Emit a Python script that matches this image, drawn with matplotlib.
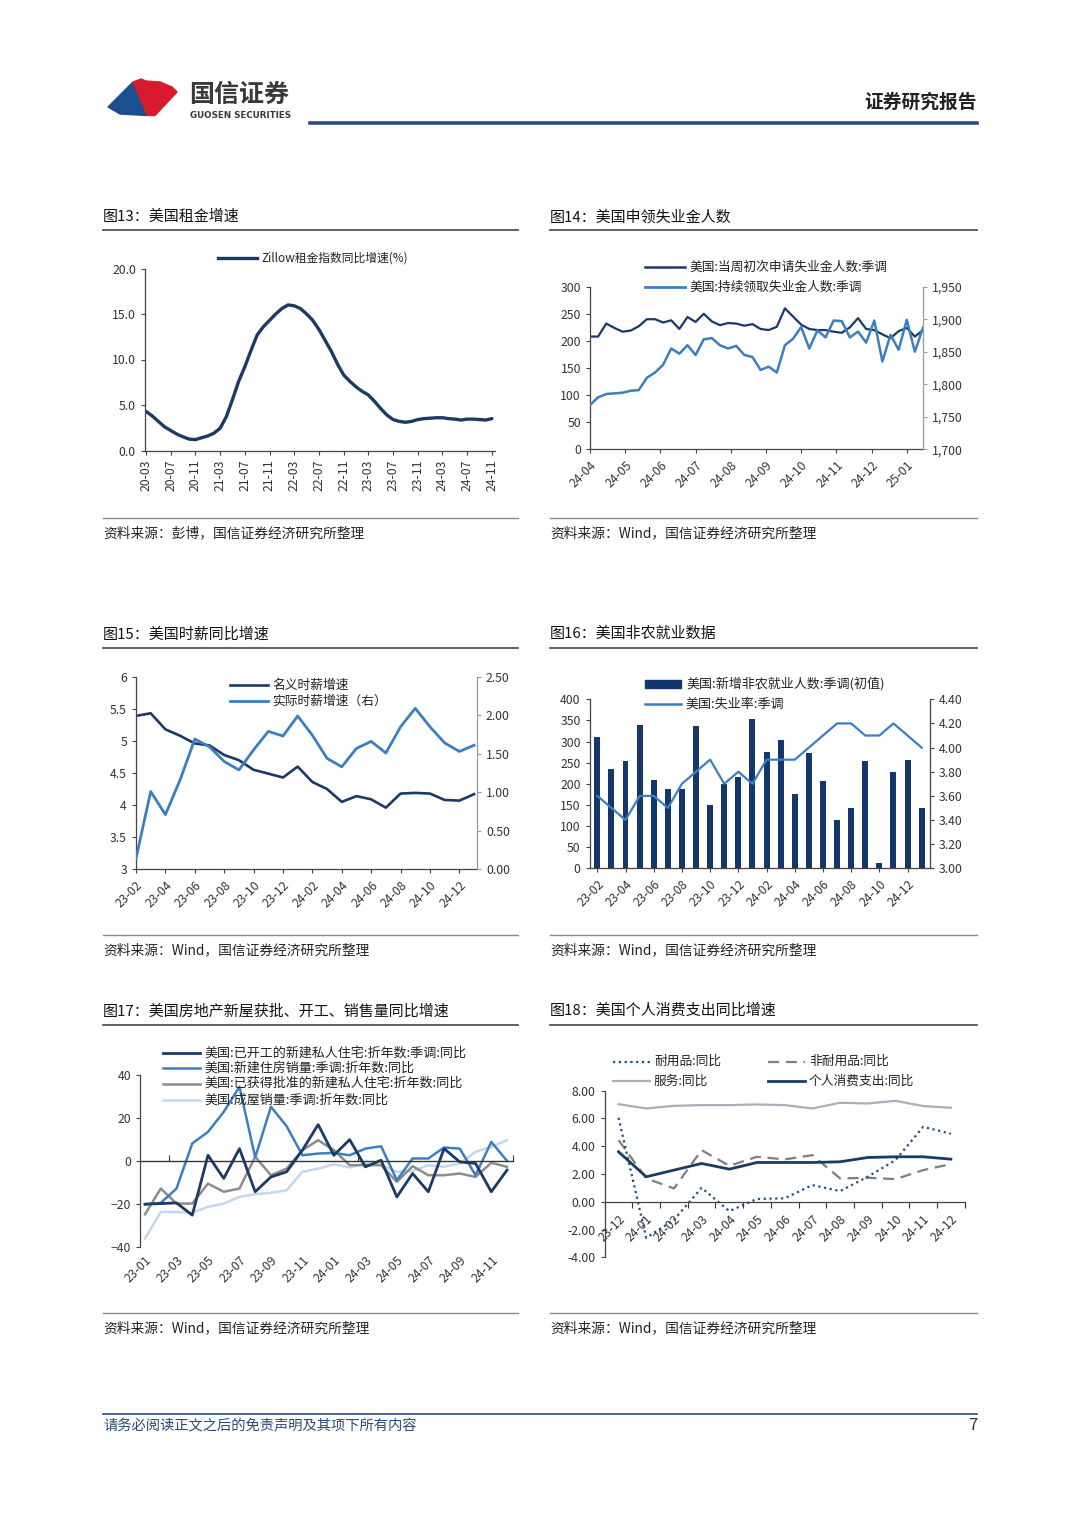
import matplotlib
matplotlib.use('Agg')
import matplotlib.pyplot as plt
import numpy as np
import pandas as pd
from matplotlib.lines import Line2D
from matplotlib.patches import Polygon, Rectangle

plt.rcParams['font.family'] = ['Noto Sans CJK SC', 'DejaVu Sans']

NAVY = '#1b3a66'
BLUE = '#3b7fc2'
GRAY = '#8c8c8c'
LIGHT = '#c3d7ee'
TXT = '#333333'

# ---- 图13 data: Zillow rent index yoy, monthly 20-03 .. 24-11
zillow_months = list(pd.period_range('2020-03', '2024-11', freq='M').strftime('%y-%m'))
zillow = [4.3, 3.8, 3.2, 2.6, 2.2, 1.8, 1.5, 1.25, 1.2, 1.4,
          1.6, 1.9, 2.45, 3.7, 5.6, 7.6, 9.2, 11.0, 12.7, 13.6, 14.3, 15.0,
          15.6, 16.0, 15.9, 15.6, 15.0, 14.3, 13.3, 12.1, 10.9, 9.5, 8.3, 7.6,
          7.0, 6.5, 6.1, 5.4, 4.6, 3.9, 3.4, 3.2, 3.1, 3.2, 3.4, 3.5,
          3.55, 3.6, 3.6, 3.5, 3.45, 3.35, 3.45, 3.45, 3.4, 3.35, 3.5]

# ---- 图14 data: weekly claims (thousand), 24-04 .. 25-01
claim_months = ['24-04', '24-05', '24-06', '24-07', '24-08', '24-09', '24-10', '24-11', '24-12', '25-01']
initial_claims = [208, 208, 232, 224, 217, 219, 227, 240, 240, 234, 238, 222, 244, 235,
                  250, 236, 229, 233, 232, 228, 231, 222, 220, 226, 260, 245, 230, 222,
                  220, 220, 217, 215, 225, 242, 222, 220, 212, 205, 218, 224, 208, 220]
continuing_claims = [1768, 1780, 1785, 1786, 1787, 1790, 1791, 1810, 1818, 1830, 1855, 1847,
                     1860, 1845, 1869, 1871, 1860, 1855, 1859, 1845, 1842, 1822, 1827, 1818,
                     1860, 1870, 1888, 1855, 1883, 1872, 1898, 1897, 1872, 1881, 1864, 1898,
                     1835, 1876, 1853, 1899, 1850, 1887]

# ---- 图15 data: hourly wage growth, monthly 23-02 .. 25-01
wage_months = list(pd.period_range('2023-02', '2025-01', freq='M').strftime('%y-%m'))
wage_nominal = [5.39, 5.43, 5.18, 5.08, 4.96, 4.93, 4.78, 4.70, 4.55, 4.49, 4.43, 4.60,
                4.36, 4.25, 4.05, 4.14, 4.09, 3.96, 4.18, 4.19, 4.18, 4.08, 4.07, 4.17]
wage_real = [0.14, 1.01, 0.71, 1.16, 1.69, 1.59, 1.40, 1.29, 1.55, 1.79, 1.73, 1.99,
             1.74, 1.44, 1.33, 1.57, 1.66, 1.51, 1.85, 2.09, 1.85, 1.64, 1.53, 1.61]

# ---- 图16 data: nonfarm payrolls and unemployment rate, 23-02 .. 25-01
nfp_months = wage_months
nfp = [311, 236, 253, 339, 209, 187, 187, 336, 150, 199, 216, 353,
       275, 303, 175, 272, 206, 114, 142, 254, 12, 227, 256, 143]
unemp = [3.6, 3.5, 3.4, 3.6, 3.6, 3.5, 3.7, 3.8, 3.9, 3.7, 3.8, 3.7,
         3.9, 3.9, 3.9, 4.0, 4.1, 4.2, 4.2, 4.1, 4.1, 4.2, 4.1, 4.0]

# ---- 图17 data: housing yoy, monthly 23-01 .. 24-12
house_months = list(pd.period_range('2023-01', '2024-12', freq='M').strftime('%y-%m'))
starts = [-20.2, -19.9, -19.6, -25.3, 2.6, -8.2, 5.7, -14.4, -7.5, -5.1, 5.0, 16.9,
          2.6, 9.9, -2.8, 0.3, -16.8, -5.9, -14.4, 5.7, -0.5, -1.2, -14.4, -4.3]
new_sales = [-20.2, -19.6, -12.9, 8.1, 13.5, 22.8, 34.5, 1.6, 25.2, 16.1, 2.6, 3.4,
             3.7, 2.6, 5.7, 6.8, -9.0, 1.1, 1.1, 6.2, 5.7, -6.7, 8.8, 0.0]
permits = [-24.9, -12.9, -19.9, -19.9, -10.6, -14.4, -12.9, 1.9, -6.7, -3.6, 5.0, 9.6,
           5.0, -2.0, -2.0, -2.0, -9.8, -2.5, -6.7, -6.7, -5.9, -7.5, -0.9, -2.8]
existing_sales = [-36.2, -23.8, -23.8, -24.2, -21.4, -19.9, -16.8, -15.5, -14.9, -13.7, -5.1, -3.6,
                  -1.6, -3.1, -1.2, -2.0, -5.1, -4.7, -2.0, -2.8, -1.2, 4.2, 6.5, 9.6]

# ---- 图18 data: PCE yoy, monthly 23-12 .. 24-12
pce_months = list(pd.period_range('2023-12', '2024-12', freq='M').strftime('%y-%m'))
durable = [6.05, -2.6, -1.3, 1.0, -0.67, 0.2, 0.25, 1.2, 0.77, 1.8, 3.0, 5.4, 4.9]
nondurable = [4.44, 1.68, 0.96, 3.72, 2.59, 3.24, 3.05, 3.36, 1.68, 1.73, 1.63, 2.28, 2.71]
services = [7.03, 6.72, 6.91, 6.96, 6.96, 7.01, 6.96, 6.72, 7.13, 7.08, 7.27, 6.89, 6.77]
pce_total = [3.6, 1.8, 2.28, 2.76, 2.35, 2.83, 2.83, 2.83, 2.88, 3.19, 3.24, 3.24, 3.07]

W, H = 1080, 1527
fig = plt.figure(figsize=(W / 100, H / 100), dpi=100)


def fx(x):
    return x / W


def fy(y):
    return 1 - y / H


def px_axes(x0, y0, x1, y1):
    return fig.add_axes([fx(x0), fy(y1), (x1 - x0) / W, (y1 - y0) / H])


def hline(x0, x1, y, color, lw):
    fig.add_artist(Line2D([fx(x0), fx(x1)], [fy(y), fy(y)], color=color, lw=lw,
                          transform=fig.transFigure))


def key(x0, x1, y, label, fs=9.2, **kw):
    fig.add_artist(Line2D([fx(x0), fx(x1)], [fy(y), fy(y)], transform=fig.transFigure, **kw))
    fig.text(fx(x1 + 4), fy(y), label, fontsize=fs, va='center', ha='left', color='#222')


def style(ax):
    for s in ['top', 'right']:
        ax.spines[s].set_visible(False)
    for s in ['left', 'bottom']:
        ax.spines[s].set_color('#444')
        ax.spines[s].set_linewidth(0.9)
    ax.tick_params(labelsize=8.8, colors='#444', labelcolor=TXT, length=3, width=0.8)
    ax.set_facecolor('none')


def style_right(ax2, color):
    for s in ['top', 'left', 'bottom']:
        ax2.spines[s].set_visible(False)
    ax2.spines['right'].set_color(color)
    ax2.spines['right'].set_linewidth(0.9)
    ax2.tick_params(labelsize=8.8, colors=color, labelcolor=TXT, length=3, width=0.8)


# ---------------- header ----------------
fig.add_artist(Polygon([(fx(133), fy(82)), (fx(138), fy(94)), (fx(143), fy(105)), (fx(147), fy(115.5)),
                        (fx(120), fy(114)), (fx(108), fy(107))],
                       closed=True, color='#1d4e8f', transform=fig.transFigure))
fig.add_artist(Polygon([(fx(133), fy(82)), (fx(141), fy(79)), (fx(146), fy(81)), (fx(160), fy(82)),
                        (fx(172), fy(87)), (fx(177), fy(92)), (fx(155), fy(115.5)), (fx(147), fy(115.5)),
                        (fx(143), fy(105)), (fx(138), fy(94))],
                       closed=True, color='#d71a2e', transform=fig.transFigure))
fig.text(fx(189), fy(95), '国信证券', fontsize=18, fontweight='bold', color='#3a3a3a', va='center', ha='left')
fig.text(fx(190), fy(115), 'GUOSEN SECURITIES', fontsize=6.3, fontweight='bold', color='#3a3a3a',
         va='center', ha='left', family='DejaVu Sans')
fig.text(fx(977), fy(102), '证券研究报告', fontsize=13.5, fontweight='bold', color='#222', va='center', ha='right')
hline(310, 977, 123, '#2b4c7e', 2.6)

# ---------------- panel frames ----------------
rows = [(217, 230, 518, 533), (634, 648, 935, 950), (1011, 1025, 1313, 1328)]
titles = [('图13：美国租金增速', '图14：美国申领失业金人数'),
          ('图15：美国时薪同比增速', '图16：美国非农就业数据'),
          ('图17：美国房地产新屋获批、开工、销售量同比增速', '图18：美国个人消费支出同比增速')]
sources = [('资料来源：彭博，国信证券经济研究所整理', '资料来源：Wind，国信证券经济研究所整理'),
           ('资料来源：Wind，国信证券经济研究所整理', '资料来源：Wind，国信证券经济研究所整理'),
           ('资料来源：Wind，国信证券经济研究所整理', '资料来源：Wind，国信证券经济研究所整理')]
for (ty, ly, by, sy), (t1, t2), (s1, s2) in zip(rows, titles, sources):
    for xl, xr, t, s in [(103, 518, t1, s1), (550, 977, t2, s2)]:
        fig.text(fx(xl), fy(ty), t, fontsize=10.8, color='#111', va='center', ha='left')
        hline(xl, xr, ly, '#555555', 1.3)
        hline(xl, xr, by, '#8a8a8a', 1.0)
        fig.text(fx(xl), fy(sy), s, fontsize=9.9, color='#222', va='center', ha='left')

# ---------------- 图13 ----------------
ax = px_axes(145, 268.5, 495, 450.5)
style(ax)
x = np.arange(len(zillow))
ax.plot(x, zillow, color=NAVY, lw=2.4, solid_capstyle='round', solid_joinstyle='round')
ax.set_ylim(0, 20)
ax.set_yticks(np.arange(0, 21, 5))
ax.set_yticklabels([f'{v:.1f}' for v in np.arange(0, 21, 5)])
ax.set_xlim(-0.16, 56.5)
ax.set_xticks(x[::4])
ax.set_xticklabels(zillow_months[::4], rotation=90)
key(218, 257, 258, 'Zillow租金指数同比增速(%)', fs=8.5, color=NAVY, lw=2.4)

# ---------------- 图14 ----------------
ax = px_axes(590, 286.7, 923, 449.3)
style(ax)
wk = np.arange(len(initial_claims))
ax.plot(wk, initial_claims, color=NAVY, lw=1.6, solid_joinstyle='round')
ax.set_ylim(0, 300)
ax.set_yticks(np.arange(0, 301, 50))
ax.set_xlim(0, 41)
ax.set_xticks(np.arange(len(claim_months)) * 52 / 12)
ax.set_xticklabels(claim_months, rotation=45, ha='right', rotation_mode='anchor')
ax2 = ax.twinx()
style_right(ax2, '#9a9a9a')
ax2.plot(wk, continuing_claims, color=BLUE, lw=1.8, solid_joinstyle='round')
ax2.set_ylim(1700, 1950)
ax2.set_yticks(np.arange(1700, 1951, 50))
ax2.set_yticklabels([f'{v:,}' for v in range(1700, 1951, 50)])
key(645, 685, 267, '美国:当周初次申请失业金人数:季调', color=NAVY, lw=1.8)
key(645, 685, 287, '美国:持续领取失业金人数:季调', color=BLUE, lw=2.0)

# ---------------- 图15 ----------------
ax = px_axes(136, 676.7, 477, 869.3)
style(ax)
m = np.arange(len(wage_nominal))
ax.plot(m, wage_nominal, color=NAVY, lw=1.9, solid_joinstyle='round')
ax.set_ylim(3, 6)
ax.set_yticks(np.arange(3, 6.01, 0.5))
ax.set_yticklabels(['3', '3.5', '4', '4.5', '5', '5.5', '6'])
ax.set_xlim(0, 23.2)
ax.set_xticks(m[::2])
ax.set_xticklabels(wage_months[::2], rotation=45, ha='right', rotation_mode='anchor')
ax2 = ax.twinx()
style_right(ax2, '#9a9a9a')
ax2.plot(m, wage_real, color=BLUE, lw=2.0, solid_joinstyle='round')
ax2.set_ylim(0, 2.5)
ax2.set_yticks(np.arange(0, 2.51, 0.5))
ax2.set_yticklabels([f'{v:.2f}' for v in np.arange(0, 2.51, 0.5)])
key(230, 268, 685, '名义时薪增速', color=NAVY, lw=1.9)
key(230, 268, 701, '实际时薪增速（右）', color=BLUE, lw=2.0)

# ---------------- 图16 ----------------
ax = px_axes(589.7, 699.3, 929.7, 868.3)
style(ax)
b = np.arange(len(nfp))
ax.bar(b, nfp, width=0.42, color='#14376b')
ax.set_ylim(0, 400)
ax.set_yticks(np.arange(0, 401, 50))
ax.set_xlim(-0.54, 23.57)
ax.set_xticks(b[::2])
ax.set_xticklabels(nfp_months[::2], rotation=45, ha='right', rotation_mode='anchor')
ax2 = ax.twinx()
style_right(ax2, '#444')
ax2.plot(b, unemp, color=BLUE, lw=1.6, solid_joinstyle='round')
ax2.set_ylim(3.0, 4.4)
ax2.set_yticks(np.arange(3.0, 4.41, 0.2))
ax2.set_yticklabels([f'{v:.2f}' for v in np.arange(3.0, 4.41, 0.2)])
fig.add_artist(Rectangle((fx(645), fy(688)), (681 - 645) / W, 8 / H, color='#14376b',
                         transform=fig.transFigure))
fig.text(fx(686), fy(684), '美国:新增非农就业人数:季调(初值)', fontsize=9.4, va='center', ha='left', color='#222')
key(645, 681, 704, '美国:失业率:季调', fs=9.4, color=BLUE, lw=1.8)

# ---------------- 图17 ----------------
ax = px_axes(140, 1075, 513, 1246.7)
style(ax)
ax.spines['bottom'].set_visible(False)
mm = np.arange(len(starts))
ax.plot(mm, existing_sales, color=LIGHT, lw=1.8, solid_joinstyle='round')
ax.plot(mm, permits, color=GRAY, lw=1.8, solid_joinstyle='round')
ax.plot(mm, new_sales, color=BLUE, lw=1.8, solid_joinstyle='round')
ax.plot(mm, starts, color=NAVY, lw=2.0, solid_joinstyle='round')
ax.axhline(0, color='#333', lw=0.9)
ax.set_ylim(-40, 40)
ax.set_yticks([-40, -20, 0, 20, 40])
ax.set_xlim(-0.32, 23.38)
ax.set_xticks(mm[::2])
ax.set_xticklabels(house_months[::2], rotation=45, ha='right', rotation_mode='anchor')
ax.tick_params(axis='x', length=0, pad=5)
sec = ax.secondary_xaxis(0.5)
sec.set_xticks([1.5, 13.5, 23.38])
sec.set_xticklabels([])
sec.spines['bottom'].set_visible(False)
sec.tick_params(length=4, width=0.8, colors='#333')
key(163, 200, 1052.7, '美国:已开工的新建私人住宅:折年数:季调:同比', fs=9.4, color=NAVY, lw=2.0)
key(163, 200, 1068, '美国:新建住房销量:季调:折年数:同比', fs=9.4, color=BLUE, lw=1.8)
key(163, 200, 1083.5, '美国:已获得批准的新建私人住宅:折年数:同比', fs=9.4, color=GRAY, lw=1.8)
key(163, 200, 1100, '美国:成屋销量:季调:折年数:同比', fs=9.4, color=LIGHT, lw=1.8)

# ---------------- 图18 ----------------
ax = px_axes(604.7, 1090.7, 964.7, 1257.3)
style(ax)
c = np.arange(len(pce_total))
ax.plot(c, services, color='#a9afba', lw=1.6)
ax.plot(c, nondurable, color='#7f7f7f', lw=1.6, ls=(0, (5, 3)))
ax.plot(c, durable, color='#1f4e8a', lw=1.6, ls=(0, (1, 1.6)))
ax.plot(c, pce_total, color=NAVY, lw=2.0, solid_joinstyle='round')
ax.spines['bottom'].set_position(('data', 0))
ax.set_ylim(-4, 8)
ax.set_yticks(np.arange(-4, 8.01, 2))
ax.set_yticklabels([f'{v:.2f}' for v in np.arange(-4, 8.01, 2)])
ax.set_xlim(-0.44, 12.5)
ax.set_xticks(c)
ax.set_xticklabels(pce_months, rotation=45, ha='right', rotation_mode='anchor')
ax.set_xticks(np.arange(-0.5, 12.6, 1), minor=True)
ax.tick_params(axis='x', which='major', length=0, pad=8)
ax.tick_params(axis='x', which='minor', length=4, width=0.8, colors='#333')
key(613, 650, 1061.7, '耐用品:同比', color='#1f4e8a', lw=1.6, ls=(0, (1, 1.6)))
key(768, 805, 1061.7, '非耐用品:同比', color='#7f7f7f', lw=1.6, ls=(0, (5, 3)))
key(613, 650, 1081, '服务:同比', color='#a9afba', lw=1.6)
key(768, 805, 1081, '个人消费支出:同比', color=NAVY, lw=2.0)

# ---------------- footer ----------------
hline(103, 977, 1414, '#3a5a85', 1.3)
fig.text(fx(103), fy(1426), '请务必阅读正文之后的免责声明及其项下所有内容', fontsize=10.3, color='#2a4a7a',
         style='italic', va='center', ha='left')
fig.text(fx(977), fy(1426), '7', fontsize=12, color='#333', va='center', ha='right')

fig.savefig('out.png', dpi=100, facecolor='white')
